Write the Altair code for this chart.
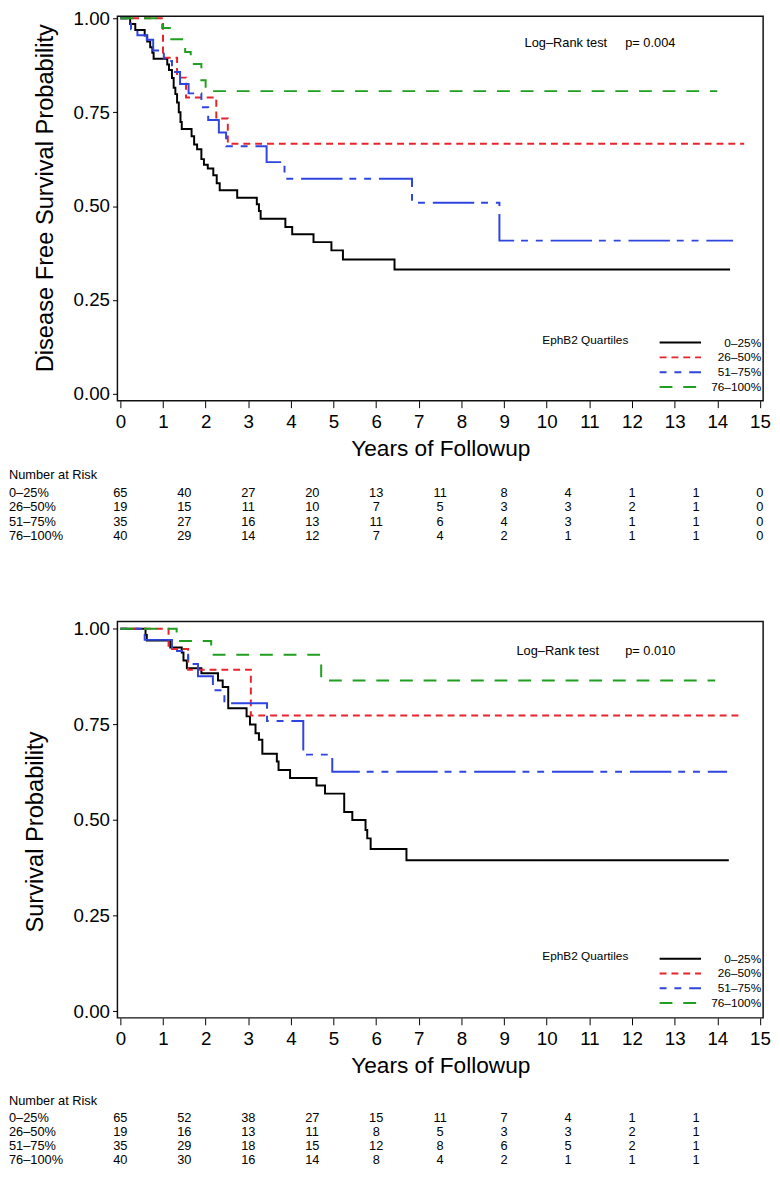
import altair as alt
import pandas as pd

FONT = "Liberation Sans"
GROUPS = ["0–25%", "26–50%", "51–75%", "76–100%"]
COLORS = ["#000000", "#E8232B", "#2E45E0", "#1F9E1F"]
DASHES = [[1, 0], [7, 5], [7, 8, 7, 8, 42, 7], [13, 11]]

# ---------------- Panel 1: disease free survival ----------------
dfs_q1_t = [0, 0.23, 0.35, 0.57, 0.63, 0.70, 0.75, 0.78, 1.10, 1.14, 1.21, 1.25, 1.29, 1.33, 1.37, 1.41, 1.44,
            1.67, 1.73, 1.80, 1.90, 1.96, 2.05, 2.18, 2.26, 2.33, 2.74, 3.20, 3.25, 3.29, 3.87, 4.03, 4.53,
            4.95, 5.22, 6.43, 14.30]
dfs_q1_s = [1.0, 0.985, 0.969, 0.954, 0.938, 0.923, 0.908, 0.892, 0.877, 0.862, 0.841, 0.815, 0.798, 0.776, 0.750,
            0.724, 0.705, 0.686, 0.664, 0.651, 0.625, 0.610, 0.600, 0.582, 0.561, 0.542, 0.522, 0.505, 0.487,
            0.466, 0.444, 0.425, 0.404, 0.382, 0.358, 0.331, 0.331]
dfs_q2_t = [0, 1.00, 1.33, 1.54, 2.25, 2.52, 14.63]
dfs_q2_s = [1.0, 0.895, 0.842, 0.789, 0.733, 0.666, 0.666]
dfs_q3_t = [0, 0.25, 0.40, 0.62, 0.77, 1.02, 1.21, 1.40, 1.60, 1.90, 2.06, 2.31, 2.48, 3.43, 3.85, 6.84, 8.89, 14.37]
dfs_q3_s = [1.0, 0.971, 0.955, 0.943, 0.914, 0.886, 0.857, 0.825, 0.800, 0.763, 0.729, 0.696, 0.659, 0.617, 0.573,
            0.509, 0.408, 0.408]
dfs_q4_t = [0, 0.98, 1.16, 1.52, 1.65, 1.90, 2.00, 14.00]
dfs_q4_s = [1.0, 0.974, 0.944, 0.910, 0.878, 0.835, 0.806, 0.806]

dfs_risk_times = [0, 1.5, 3, 4.5, 6, 7.5, 9, 10.5, 12, 13.5, 15]
dfs_risk_q1 = [65, 40, 27, 20, 13, 11, 8, 4, 1, 1, 0]
dfs_risk_q2 = [19, 15, 11, 10, 7, 5, 3, 3, 2, 1, 0]
dfs_risk_q3 = [35, 27, 16, 13, 11, 6, 4, 3, 1, 1, 0]
dfs_risk_q4 = [40, 29, 14, 12, 7, 4, 2, 1, 1, 1, 0]

# ---------------- Panel 2: overall survival ----------------
os_q1_t = [0, 0.59, 0.62, 1.17, 1.44, 1.48, 1.56, 1.90, 2.29, 2.40, 2.53, 2.96, 3.04, 3.17, 3.25, 3.33, 3.67, 3.71,
           3.98, 4.60, 4.80, 5.25, 5.44, 5.75, 5.79, 5.87, 6.71, 14.27]
os_q1_s = [1.0, 0.984, 0.969, 0.951, 0.938, 0.917, 0.897, 0.884, 0.865, 0.848, 0.792, 0.771, 0.750, 0.727, 0.710,
           0.673, 0.653, 0.631, 0.610, 0.590, 0.569, 0.521, 0.500, 0.474, 0.452, 0.424, 0.395, 0.395]
os_q2_t = [0, 1.13, 1.59, 3.06, 14.50]
os_q2_s = [1.0, 0.947, 0.893, 0.773, 0.773]
os_q3_t = [0, 0.57, 1.21, 1.59, 1.82, 2.17, 2.44, 3.44, 4.29, 4.97, 14.23]
os_q3_s = [1.0, 0.971, 0.942, 0.908, 0.876, 0.839, 0.805, 0.759, 0.671, 0.626, 0.626]
os_q4_t = [0, 1.32, 2.13, 4.71, 13.95]
os_q4_s = [1.0, 0.968, 0.932, 0.865, 0.865]

os_risk_times = [0, 1.5, 3, 4.5, 6, 7.5, 9, 10.5, 12, 13.5]
os_risk_q1 = [65, 52, 38, 27, 15, 11, 7, 4, 1, 1]
os_risk_q2 = [19, 16, 13, 11, 8, 5, 3, 3, 2, 1]
os_risk_q3 = [35, 29, 18, 15, 12, 8, 6, 5, 2, 1]
os_risk_q4 = [40, 30, 16, 14, 8, 4, 2, 1, 1, 1]

Y_TICKS = [0, 0.25, 0.5, 0.75, 1.0]
X_TICKS = [i * 0.25 for i in range(61)]
X_DOMAIN = [-0.069, 15.075]
W = 655


def km_frame(ts, ss):
    rows = []
    for k, (g, tl, sl) in enumerate(zip(GROUPS, ts, ss)):
        for t, s in zip(tl, sl):
            rows.append({"g": g, "t": t, "s": s, "k": k})
    return pd.DataFrame(rows)


def risk_frame(times, counts):
    rows = []
    for r, (g, cs) in enumerate(zip(GROUPS, counts)):
        for t, n in zip(times, cs):
            rows.append({"g": g, "row": r, "t": t, "n": n})
    return pd.DataFrame(rows)


def panel(ts, ss, risk_times, risk_counts, ytitle, pval, c):
    H = c["height"]
    yscale = alt.Scale(domain=c["ydom"], nice=False, zero=False)
    xscale = alt.Scale(domain=X_DOMAIN, nice=False, zero=False)
    rowscale = alt.Scale(domain=[0, 3], range=c["rows"], nice=False, zero=False)

    xaxis = alt.Axis(
        values=X_TICKS, title="Years of Followup",
        labelExpr="datum.value % 1 === 0 ? format(datum.value, 'd') : ''",
        labelOverlap=False, labelFlush=False, labelBound=False,
        tickSize={"condition": {"test": "datum.value % 1 === 0", "value": 7}, "value": 4},
        labelPadding=5, labelFontSize=19, titleFontSize=23, titleFontWeight="normal",
        titleY=48.5, titleBaseline="middle", domain=False, grid=False,
    )
    yaxis = alt.Axis(
        values=Y_TICKS, format=".2f", title=ytitle, tickSize=5, labelPadding=3,
        labelFontSize=19, titleFontSize=24, titleFontWeight="normal",
        titleX=c["title_x"], titleY=c["title_y"], titleAngle=270,
        titleAlign="center", titleBaseline="middle", domain=False, grid=False,
    )
    leg = alt.Legend(
        title="EphB2 Quartiles", orient="none", legendX=431, legendY=c["legend_y"],
        titleOrient="left", titleAnchor="start", titleBaseline="top", titlePadding=30,
        titleFontSize=12, titleFontWeight="normal",
        labelFontSize=12, labelAlign="right", labelOffset=60,
        symbolType="stroke", symbolSize=1764, symbolStrokeWidth=2,
        clipHeight=15, rowPadding=0, padding=0,
    )

    km = alt.Chart(km_frame(ts, ss)).mark_line(interpolate="step-after", strokeWidth=2).encode(
        x=alt.X("t:Q", scale=xscale, axis=xaxis),
        y=alt.Y("s:Q", scale=yscale, axis=yaxis),
        color=alt.Color("g:N", scale=alt.Scale(domain=GROUPS, range=COLORS), legend=leg),
        strokeDash=alt.StrokeDash("g:N", scale=alt.Scale(domain=GROUPS, range=DASHES), legend=leg),
        order="t:Q",
    )

    ann_df = pd.DataFrame({
        "t": [c["lr_t"], 11.84],
        "s": [c["lr_s"], c["lr_s"]],
        "label": ["Log–Rank test", pval],
    })
    ann = alt.Chart(ann_df).mark_text(align="left", baseline="middle", fontSize=13).encode(
        x=alt.X("t:Q", scale=xscale), y=alt.Y("s:Q", scale=yscale, axis=None), text="label:N"
    )

    rdf = risk_frame(risk_times, risk_counts)
    risk_n = alt.Chart(rdf).mark_text(align="center", baseline="middle", fontSize=13).encode(
        x=alt.X("t:Q", scale=xscale),
        y=alt.Y("row:Q", scale=rowscale, axis=None),
        text="n:Q",
    )
    lab_df = pd.DataFrame({"g": GROUPS, "row": [0, 1, 2, 3]})
    risk_lab = alt.Chart(lab_df).mark_text(align="left", baseline="middle", fontSize=13).encode(
        x=alt.value(-110),
        y=alt.Y("row:Q", scale=rowscale, axis=None),
        text="g:N",
    )
    head = alt.Chart(pd.DataFrame({"label": ["Number at Risk"]})).mark_text(
        align="left", baseline="middle", fontSize=13
    ).encode(x=alt.value(-110), y=alt.value(c["head_y"]), text="label:N")

    return alt.layer(km, ann, risk_n, risk_lab, head).resolve_scale(y="independent").properties(
        width=W, height=H
    )


top = panel(
    [dfs_q1_t, dfs_q2_t, dfs_q3_t, dfs_q4_t],
    [dfs_q1_s, dfs_q2_s, dfs_q3_s, dfs_q4_s],
    dfs_risk_times, [dfs_risk_q1, dfs_risk_q2, dfs_risk_q3, dfs_risk_q4],
    "Disease Free Survival Probability", "p= 0.004",
    {"height": 390, "ydom": [-0.01837, 1.00525], "rows": [483.7, 527.0], "head_y": 465.3,
     "title_x": -73, "title_y": 184, "legend_y": 323.5, "lr_t": 9.48, "lr_s": 0.933},
)

bottom = panel(
    [os_q1_t, os_q2_t, os_q3_t, os_q4_t],
    [os_q1_s, os_q2_s, os_q3_s, os_q4_s],
    os_risk_times, [os_risk_q1, os_risk_q2, os_risk_q3, os_risk_q4],
    "Survival Probability", "p= 0.010",
    {"height": 402, "ydom": [-0.01727, 1.0188], "rows": [504.0, 546.7], "head_y": 486.3,
     "title_x": -83, "title_y": 213, "legend_y": 334.5, "lr_t": 9.29, "lr_s": 0.9415},
)

chart = alt.vconcat(top, bottom, spacing=76).resolve_scale(
    color="independent", strokeDash="independent"
).resolve_legend(
    color="independent", strokeDash="independent"
).properties(
    padding={"left": 0, "top": -8, "right": 0, "bottom": 0}
).configure_view(
    stroke="#111111", strokeWidth=1.5
).configure_axis(
    labelFont=FONT, titleFont=FONT, labelColor="#000000", titleColor="#000000", tickColor="#000000"
).configure_legend(
    labelFont=FONT, titleFont=FONT, labelColor="#000000", titleColor="#000000"
).configure_text(
    font=FONT, color="#000000"
)

chart.save("out.html", embed_options={"renderer": "svg", "actions": False})
